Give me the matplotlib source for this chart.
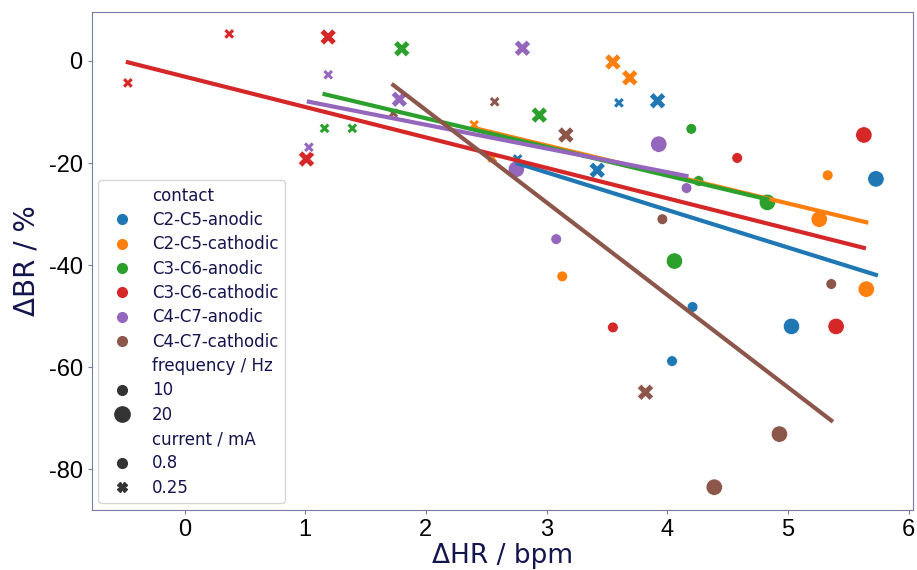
import numpy as np
import pandas as pd
import matplotlib
matplotlib.use("Agg")
import matplotlib.pyplot as plt
from matplotlib.lines import Line2D

plt.rcParams['axes.unicode_minus'] = False

# Data: dHR (bpm), dBR (%), frequency (Hz), current (mA)
contacts = ['C2-C5-anodic', 'C2-C5-cathodic', 'C3-C6-anodic',
            'C3-C6-cathodic', 'C4-C7-anodic', 'C4-C7-cathodic']
colors = ['#1f77b4', '#ff7f0e', '#2ca02c', '#d62728', '#9467bd', '#8c564b']

hr_c2c5_an = [2.76, 3.60, 3.42, 3.92, 5.73, 5.03, 4.04, 4.21]
br_c2c5_an = [-19.2, -8.2, -21.4, -7.8, -23.1, -52.0, -58.8, -48.2]
hz_c2c5_an = [10, 10, 20, 20, 20, 20, 10, 10]
ma_c2c5_an = [0.25, 0.25, 0.25, 0.25, 0.8, 0.8, 0.8, 0.8]

hr_c2c5_ca = [3.55, 3.69, 2.40, 2.55, 5.33, 5.26, 5.65, 3.13]
br_c2c5_ca = [-0.2, -3.3, -12.5, -19.0, -22.4, -31.0, -44.7, -42.2]
hz_c2c5_ca = [20, 20, 10, 10, 10, 20, 20, 10]
ma_c2c5_ca = [0.25, 0.25, 0.25, 0.25, 0.8, 0.8, 0.8, 0.8]

hr_c3c6_an = [1.80, 1.16, 1.39, 2.94, 4.20, 4.26, 4.83, 4.06]
br_c3c6_an = [2.4, -13.2, -13.2, -10.6, -13.3, -23.5, -27.7, -39.2]
hz_c3c6_an = [20, 10, 10, 20, 10, 10, 20, 20]
ma_c3c6_an = [0.25, 0.25, 0.25, 0.25, 0.8, 0.8, 0.8, 0.8]

hr_c3c6_ca = [-0.47, 0.37, 1.19, 1.01, 4.58, 5.63, 3.55, 5.40]
br_c3c6_ca = [-4.3, 5.3, 4.7, -19.2, -19.0, -14.5, -52.2, -52.0]
hz_c3c6_ca = [10, 10, 20, 20, 10, 20, 10, 20]
ma_c3c6_ca = [0.25, 0.25, 0.25, 0.25, 0.8, 0.8, 0.8, 0.8]

hr_c4c7_an = [1.19, 1.78, 1.03, 2.80, 2.75, 3.93, 4.16, 3.08]
br_c4c7_an = [-2.7, -7.5, -16.9, 2.5, -21.2, -16.3, -24.9, -34.9]
hz_c4c7_an = [10, 20, 10, 20, 20, 20, 10, 10]
ma_c4c7_an = [0.25, 0.25, 0.25, 0.25, 0.8, 0.8, 0.8, 0.8]

hr_c4c7_ca = [1.73, 2.57, 3.16, 3.96, 5.36, 3.82, 4.93, 4.39]
br_c4c7_ca = [-10.2, -8.0, -14.5, -31.0, -43.7, -64.9, -73.1, -83.5]
hz_c4c7_ca = [10, 10, 20, 10, 10, 20, 20, 20]
ma_c4c7_ca = [0.25, 0.25, 0.25, 0.8, 0.8, 0.25, 0.8, 0.8]

frames = []
for name, hr, br, hz, ma in [
    (contacts[0], hr_c2c5_an, br_c2c5_an, hz_c2c5_an, ma_c2c5_an),
    (contacts[1], hr_c2c5_ca, br_c2c5_ca, hz_c2c5_ca, ma_c2c5_ca),
    (contacts[2], hr_c3c6_an, br_c3c6_an, hz_c3c6_an, ma_c3c6_an),
    (contacts[3], hr_c3c6_ca, br_c3c6_ca, hz_c3c6_ca, ma_c3c6_ca),
    (contacts[4], hr_c4c7_an, br_c4c7_an, hz_c4c7_an, ma_c4c7_an),
    (contacts[5], hr_c4c7_ca, br_c4c7_ca, hz_c4c7_ca, ma_c4c7_ca),
]:
    frames.append(pd.DataFrame({'contact': name, 'hr': hr, 'br': br,
                                'freq': hz, 'current': ma}))
df = pd.concat(frames, ignore_index=True)

size_map = {10: 60, 20: 140}
marker_map = {0.8: 'o', 0.25: 'X'}
text_col = '#14144e'
spine_col = '#7a7aa6'

fig = plt.figure(figsize=(9.17, 5.70), dpi=100)
ax = fig.add_axes([0.100, 0.105, 0.896, 0.874])

# scatter points
for name, col in zip(contacts, colors):
    sub = df[df['contact'] == name]
    for cur, mk in marker_map.items():
        s = sub[sub['current'] == cur]
        ax.scatter(s['hr'], s['br'], s=s['freq'].map(size_map), marker=mk,
                   color=col, edgecolor='white', linewidth=0.5, zorder=2)

# linear fits per contact
for name, col in zip(contacts, colors):
    sub = df[df['contact'] == name]
    k, b = np.polyfit(sub['hr'], sub['br'], 1)
    xs = np.array([sub['hr'].min(), sub['hr'].max()])
    ax.plot(xs, k * xs + b, color=col, linewidth=3, zorder=3)

ax.set_xlim(-0.77, 6.04)
ax.set_ylim(-88, 9.6)
ax.set_xticks(range(0, 7))
ax.set_yticks([0, -20, -40, -60, -80])
ax.tick_params(labelsize=17, colors=spine_col, labelcolor='black', length=3)
for lbl in ax.get_xticklabels() + ax.get_yticklabels():
    lbl.set_fontfamily('Liberation Sans')
for sp in ax.spines.values():
    sp.set_color(spine_col)
ax.set_xlabel('ΔHR / bpm', fontsize=19, color=text_col, labelpad=1)
ax.set_ylabel('ΔBR / %', fontsize=20, color=text_col, labelpad=6)

# legend in seaborn style
blank = Line2D([], [], linestyle='none', marker='')
handles, labels = [blank], ['contact']
for name, col in zip(contacts, colors):
    handles.append(Line2D([], [], linestyle='none', marker='o', color=col, markersize=7))
    labels.append(name)
handles.append(blank); labels.append('frequency / Hz')
handles.append(Line2D([], [], linestyle='none', marker='o', color='#333333', markersize=7))
labels.append('10')
handles.append(Line2D([], [], linestyle='none', marker='o', color='#333333', markersize=11))
labels.append('20')
handles.append(blank); labels.append('current / mA')
handles.append(Line2D([], [], linestyle='none', marker='o', color='#333333', markersize=7))
labels.append('0.8')
handles.append(Line2D([], [], linestyle='none', marker='X', color='#333333', markersize=7))
labels.append('0.25')
leg = ax.legend(handles, labels, loc='lower left', fontsize=12, labelspacing=0.38,
                handletextpad=0.8, borderaxespad=0.4, frameon=True)
for t in leg.get_texts():
    t.set_color(text_col)

fig.savefig('out.png', dpi=100)
